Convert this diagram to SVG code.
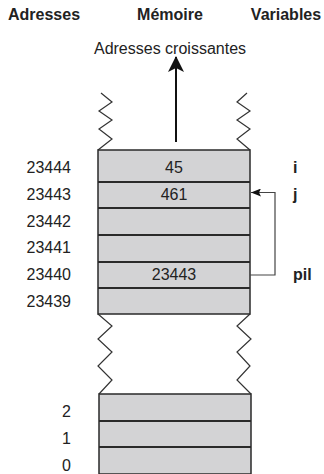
<svg xmlns="http://www.w3.org/2000/svg" width="324" height="474" viewBox="0 0 324 474">
<style>
text{font-family:"Liberation Sans",Arial,sans-serif;font-size:16px;fill:#222}
.h{font-weight:bold}
.r{text-anchor:end}
.m{text-anchor:middle}
.cell{fill:#d3d3d5;stroke:#2a2a2a;stroke-width:1.5}
.div{stroke:#2a2a2a;stroke-width:2}
.zz{fill:none;stroke:#333;stroke-width:1.2}
.link{fill:none;stroke:#444;stroke-width:1.2}
</style>
<defs>
<marker id="big" viewBox="0 0 16 16" refX="15" refY="8" markerWidth="16" markerHeight="16" markerUnits="userSpaceOnUse" orient="auto">
<path d="M0,0 L16,8 L0,16 L4,8 Z" fill="#111"/>
</marker>
<marker id="small" viewBox="0 0 10 8" refX="10" refY="4" markerWidth="10" markerHeight="8" markerUnits="userSpaceOnUse" orient="auto">
<path d="M0,0 L10,4 L0,8 L2,4 Z" fill="#111"/>
</marker>
</defs>
<g id="headers">
<text class="h" x="8" y="20">Adresses</text>
<text class="h m" x="170" y="20">Mémoire</text>
<text class="h m" x="286" y="20">Variables</text>
<text class="m" x="170" y="54">Adresses croissantes</text>
</g>
<g id="breaks">
<polyline class="zz" points="101,93 112,102 99,111 112,120 99,129 112,139 98,150"/>
<polyline class="zz" points="247,93 237,102 250,111 237,120 250,129 237,139 250,150"/>
<polyline class="zz" points="98,314 112,326 98,339 112,352 98,366 112,380 99,394"/>
<polyline class="zz" points="250,314 237,326 251,339 237,352 250,366 237,380 251,394"/>
</g>
<g id="memory-top">
<rect class="cell" x="98" y="150" width="152" height="164"/>
<line class="div" x1="98" y1="182" x2="250" y2="182"/>
<line class="div" x1="98" y1="208" x2="250" y2="208"/>
<line class="div" x1="98" y1="235" x2="250" y2="235"/>
<line class="div" x1="98" y1="262" x2="250" y2="262"/>
<line class="div" x1="98" y1="288" x2="250" y2="288"/>
<text class="m" x="174" y="173">45</text>
<text class="m" x="174" y="200">461</text>
<text class="m" x="174" y="280">23443</text>
</g>
<g id="memory-bottom">
<rect class="cell" x="99" y="394" width="152" height="80"/>
<line class="div" x1="99" y1="421" x2="251" y2="421"/>
<line class="div" x1="99" y1="447" x2="251" y2="447"/>
</g>
<g id="addresses">
<text class="r" x="71" y="173">23444</text>
<text class="r" x="71" y="200">23443</text>
<text class="r" x="71" y="227">23442</text>
<text class="r" x="71" y="253">23441</text>
<text class="r" x="71" y="280">23440</text>
<text class="r" x="71" y="307">23439</text>
<text class="r" x="71" y="417">2</text>
<text class="r" x="71" y="444">1</text>
<text class="r" x="71" y="471">0</text>
</g>
<g id="variables">
<text class="h" x="293" y="173">i</text>
<text class="h" x="293" y="200">j</text>
<text class="h" x="293" y="280">pil</text>
</g>
<g id="connectors">
<line x1="176" y1="142" x2="176" y2="57" stroke="#111" stroke-width="2" marker-end="url(#big)"/>
<polyline class="link" points="250,275 275,275 275,192.5 251,192.5" marker-end="url(#small)"/>
</g>
</svg>
